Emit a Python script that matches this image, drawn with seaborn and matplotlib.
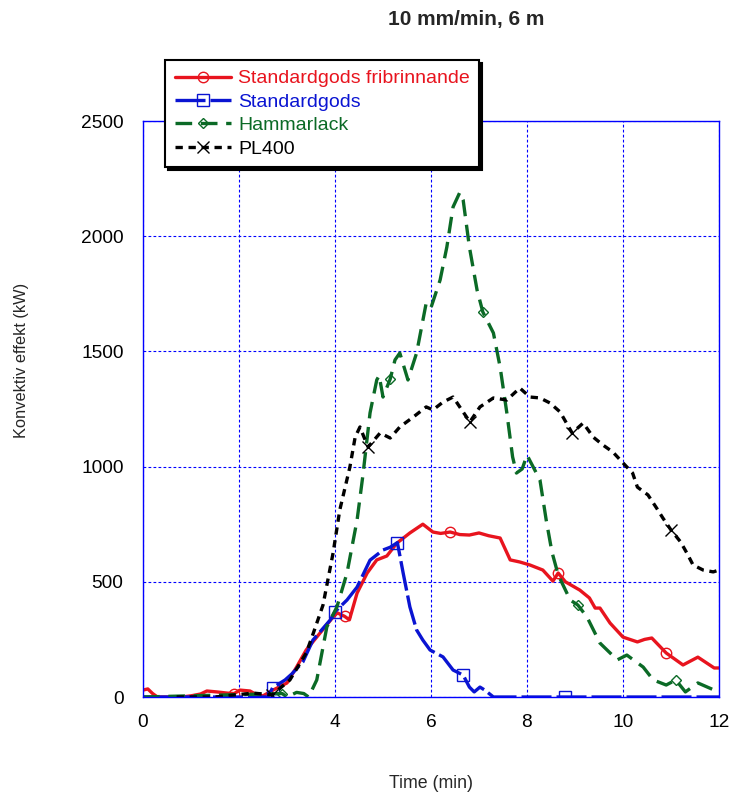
import numpy as np
import pandas as pd
import matplotlib
matplotlib.use("Agg")
import matplotlib.pyplot as plt
import seaborn as sns

# ---------------- data ----------------
red_t = [0, 0.1, 0.2, 0.3, 0.8, 1.0, 1.2, 1.33, 1.54, 1.75, 1.9, 2.02, 2.23, 2.37, 2.5, 2.71, 3.0, 3.2,
         3.4, 3.69, 3.96, 4.05, 4.2, 4.3, 4.46, 4.67, 4.87, 5.08, 5.29, 5.56, 5.83, 6.04, 6.2, 6.4, 6.6,
         6.8, 7.0, 7.2, 7.44, 7.65, 7.85, 8.06, 8.33, 8.54, 8.65, 8.8, 9.1, 9.3, 9.42, 9.52, 9.73, 10.0,
         10.3, 10.45, 10.6, 10.9, 11.25, 11.56, 11.9, 12.0]
red_v = [30, 35, 15, 0, 0, 5, 13, 26, 22, 17, 15, 30, 26, 9, 5, 30, 61, 130,
         204, 278, 347, 365, 350, 335, 451, 538, 595, 612, 668, 712, 750, 716, 710, 716, 705,
         703, 712, 700, 690, 595, 586, 573, 551, 503, 538, 500, 464, 430, 386, 386, 321, 260,
         239, 250, 256, 191, 139, 173, 126, 126]
red_marks = [1.9, 4.2, 6.4, 8.65, 10.9]

blue_t = [0, 2.6, 2.7, 2.96, 3.1, 3.33, 3.54, 3.9, 4.0, 4.25, 4.46, 4.73, 5.0, 5.15, 5.3, 5.42, 5.56,
          5.7, 5.83, 5.98, 6.25, 6.46, 6.67, 6.8, 6.9, 7.02, 7.12, 7.3, 8.8, 12.0]
blue_v = [0, 0, 40, 74, 100, 152, 247, 334, 370, 421, 477, 594, 638, 650, 670, 538, 391,
          291, 247, 204, 174, 117, 95, 43, 22, 43, 30, 0, 0, 0]
blue_marks = [2.7, 4.0, 5.3, 6.67, 8.8]

green_t = [0, 2.9, 3.0, 3.2, 3.35, 3.45, 3.62, 3.83, 4.04, 4.25, 4.46, 4.58, 4.73, 4.87, 4.92, 5.0,
           5.15, 5.25, 5.35, 5.52, 5.7, 5.9, 6.0, 6.19, 6.33, 6.46, 6.6, 6.67, 6.8, 6.96, 7.08, 7.3,
           7.44, 7.58, 7.7, 7.78, 7.9, 8.0, 8.27, 8.4, 8.52, 8.65, 8.9, 9.06, 9.25, 9.52, 9.88,
           10.08, 10.42, 10.63, 10.9, 11.1, 11.3, 11.56, 11.9, 12.0]
green_v = [0, 15, 0, 20, 15, 0, 74, 304, 391, 538, 768, 960, 1233, 1376, 1395, 1302,
           1380, 1463, 1493, 1376, 1493, 1710, 1690, 1810, 1953, 2127, 2190, 2157, 1953, 1766, 1671, 1580,
           1432, 1233, 1042, 972, 990, 1050, 942, 768, 629, 530, 421, 399, 347, 234, 161,
           182, 130, 74, 52, 74, 22, 61, 30, 30]
green_marks = [2.9, 5.15, 7.08, 9.06, 11.1]

black_t = [0.7, 1.5, 2.3, 2.69, 3.06, 3.4, 3.55, 3.75, 3.96, 4.1, 4.31, 4.42, 4.52, 4.6, 4.69, 4.94,
           5.15, 5.35, 5.63, 5.9, 6.04, 6.25, 6.46, 6.67, 6.81, 7.02, 7.3, 7.58, 7.85, 8.06, 8.27,
           8.48, 8.69, 8.94, 9.17, 9.38, 9.58, 9.79, 10.0, 10.2, 10.3, 10.52, 10.7, 10.83, 11.0,
           11.2, 11.33, 11.46, 11.67, 11.88, 12.0]
black_v = [0, 0, 17, 9, 74, 191, 278, 399, 625, 812, 998, 1128, 1172, 1130, 1085, 1146,
           1124, 1172, 1215, 1259, 1246, 1280, 1302, 1237, 1194, 1259, 1298, 1289, 1341, 1302, 1298,
           1276, 1237, 1146, 1189, 1128, 1094, 1063, 1016, 972, 911, 877, 820, 777, 725,
           673, 625, 573, 551, 543, 551]
black_marks = [2.69, 4.69, 6.81, 8.94, 11.0]

labels = ["Standardgods fribrinnande", "Standardgods", "Hammarlack", "PL400"]
x_ticks = [0, 2, 4, 6, 8, 10, 12]
y_ticks = [0, 500, 1000, 1500, 2000, 2500]

# ---------------- style ----------------
sns.set_style("white")
plt.rcParams["font.family"] = ["Liberation Sans", "DejaVu Sans"]

fig = plt.figure(figsize=(7.31, 7.94), dpi=100)
ax = fig.add_axes([143 / 731, 1 - 697 / 794, 576 / 731, 576 / 794])

series = [
    (red_t, red_v, red_marks, "#e8141e", dict(marker="o", ms=7.5), None),
    (blue_t, blue_v, blue_marks, "#0a14d2", dict(marker="s", ms=8), (9, 1.5)),
    (green_t, green_v, green_marks, "#0b6a26", dict(marker="D", ms=5.5), (5, 2.6)),
    (black_t, black_v, black_marks, "#000000", dict(marker="x", ms=8), (2.2, 1.7)),
]

for (t, v, marks, col, mk, dash), lab in zip(series, labels):
    df = pd.DataFrame({"t": t, "v": v})
    idx = [int(np.argmin(np.abs(np.array(t) - m))) for m in marks]
    sns.lineplot(data=df, x="t", y="v", ax=ax, color=col, label=lab,
                 estimator=None, sort=False, linewidth=2.4,
                 markevery=idx, mfc="none", mec=col, mew=1.0, **mk)
    line = ax.lines[-1]
    if dash is not None:
        line.set_dashes(dash)
    line.set_solid_capstyle("round")
    line.set_dash_capstyle("butt")

ax.set_xlim(0, 12)
ax.set_ylim(0, 2500)
ax.set_xticks(x_ticks)
ax.set_yticks(y_ticks)
ax.set_xlabel("")
ax.set_ylabel("")
ax.tick_params(axis="both", length=0, labelsize=13.8, colors="black")
ax.tick_params(axis="x", pad=12)
ax.tick_params(axis="y", pad=14)
ax.grid(True, color="#0000ff", linestyle=(0, (2.5, 2)), linewidth=0.8)
for sp in ax.spines.values():
    sp.set_color("#0000ff")
    sp.set_linewidth(1.0)
    sp.set_visible(True)

fig.text(22 / 731, 1 - 360 / 794, "Konvektiv effekt (kW)", rotation=90,
         ha="center", va="center", fontsize=11.8)
fig.text(431 / 731, 1 - 783 / 794, "Time (min)", ha="center", va="center", fontsize=12.8)
fig.text(466 / 731, 1 - 20 / 794, "10 mm/min, 6 m", ha="center", va="center",
         fontsize=15, fontweight="bold")

leg = ax.legend(loc="upper left", bbox_to_anchor=(165 / 731, 1 - 60 / 794),
                bbox_transform=fig.transFigure, frameon=True, fancybox=False,
                shadow={"color": "black", "alpha": 1.0}, edgecolor="black",
                fontsize=14, handlelength=2.9, labelspacing=0.3,
                borderpad=0.5, handletextpad=0.35, labelcolor="linecolor",
                borderaxespad=0)
leg.get_frame().set_linewidth(1.5)
leg.get_frame().set_alpha(1.0)

fig.savefig("out.png", dpi=100)
